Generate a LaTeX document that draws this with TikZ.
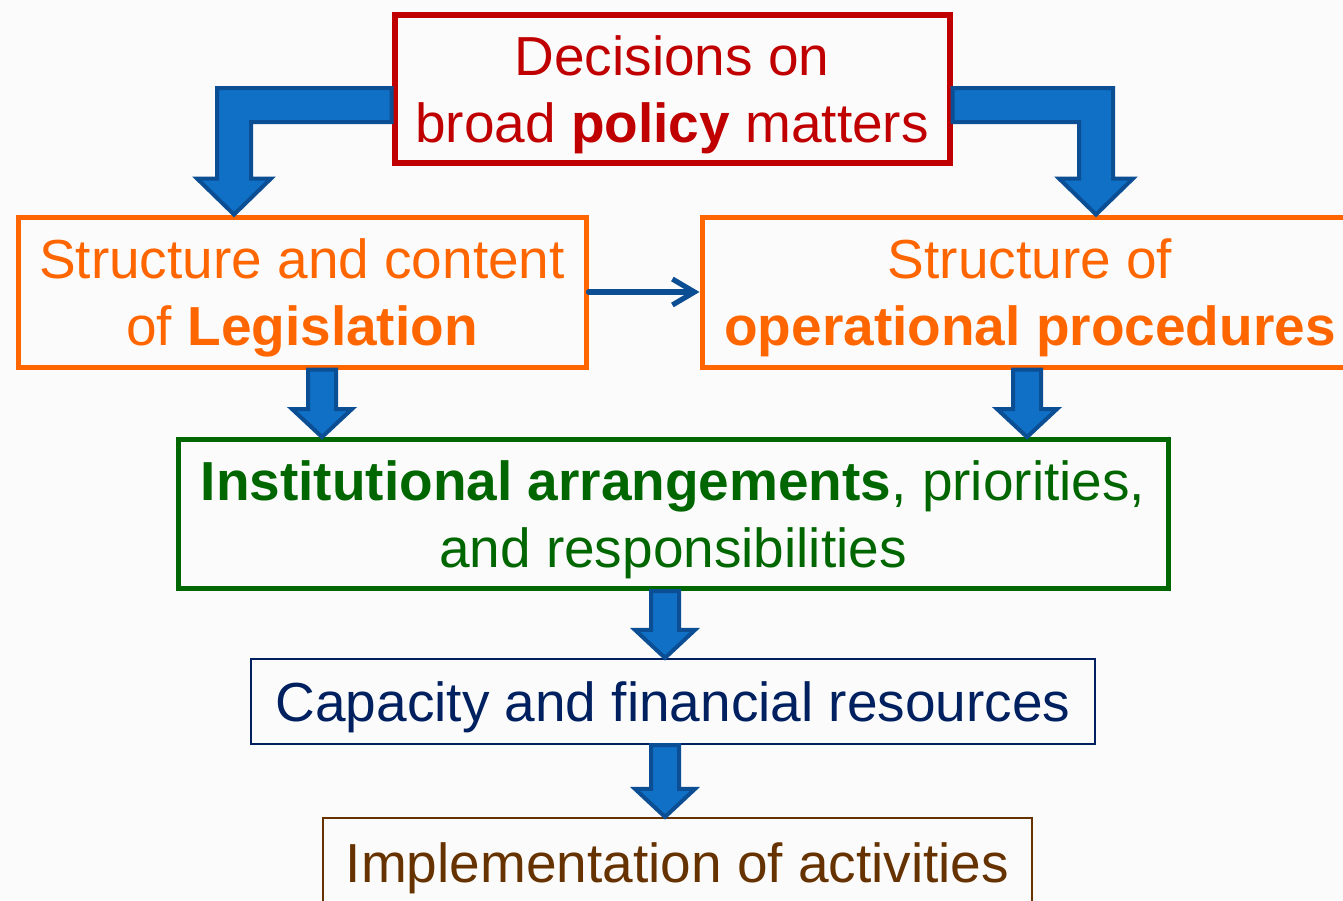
\documentclass[tikz,border=0pt]{standalone}
\usepackage{fontspec}
\setmainfont{Liberation Sans}
\usetikzlibrary{arrows.meta, calc}
\definecolor{policyred}{HTML}{C00000}
\definecolor{legorange}{HTML}{FF6600}
\definecolor{instgreen}{HTML}{006600}
\definecolor{capnavy}{HTML}{002060}
\definecolor{implbrown}{HTML}{663300}
\definecolor{flowfill}{HTML}{1070C6}
\definecolor{flowedge}{HTML}{0B4E94}
\definecolor{bgpage}{HTML}{FBFBFB}
\newcommand{\topstrut}{\rule{0pt}{26pt}}
\tikzset{
  box/.style={draw, inner sep=0pt, align=center,
              font=\fontsize{27.5pt}{33.5pt}\selectfont},
  redbox/.style={box, draw=policyred, text=policyred, line width=3pt},
  orbox/.style={box, draw=legorange, text=legorange, line width=2.5pt},
  grbox/.style={box, draw=instgreen, text=instgreen, line width=2.5pt},
  nvbox/.style={box, draw=capnavy, text=capnavy, line width=1.1pt},
  brbox/.style={box, draw=implbrown, text=implbrown, line width=1.1pt},
  fat/.style={fill=flowfill, draw=flowedge, line width=2pt, line join=miter},
  fl/.style={-{Straight Barb[length=11pt,width=13pt]}, line width=2.6pt,
             draw=flowedge, line cap=round},
}
% straight block arrow: #1 axis x, #2 upper node, #3 lower node
\newcommand{\fatdown}[3]{%
  \draw[fat] ($(#1,0 |- #2.south)+(-14,0)$) -- ($(#1,0 |- #3.north)+(-14,-28)$)
    -- ++(-16,0) -- (#1,0 |- #3.north) -- ($(#1,0 |- #3.north)+(30,-28)$)
    -- ++(-16,0) -- ($(#1,0 |- #2.south)+(14,0)$) -- cycle;}

\begin{document}
\begin{tikzpicture}[x=0.5pt, y=-0.5pt]
    \fill[bgpage] (0,0) rectangle (1343,900);
    \useasboundingbox (0,0) rectangle (1343,900);
    \clip (0,0) rectangle (1343,900);

    \node[redbox, minimum width=277.5pt, minimum height=74pt] (policy) at (672,89)
      {\topstrut Decisions on\\broad \textbf{policy} matters};
    \node[orbox, minimum width=284pt, minimum height=75pt] (leg) at (302,292)
      {\topstrut Structure and content\\of \textbf{Legislation}};
    \node[orbox, minimum width=328pt, minimum height=75pt] (ops) at (1030,292)
      {\topstrut Structure of\\\textbf{operational procedures}};
    \node[grbox, minimum width=495pt, minimum height=74.5pt] (inst) at (673,514)
      {\topstrut\textbf{Institutional arrangements}, priorities,\\and responsibilities};
    \node[nvbox, minimum width=422pt, minimum height=42.5pt] (cap) at (673,701.5)
      {\topstrut Capacity and financial resources};
    \node[brbox, minimum width=354.5pt, minimum height=44pt] (impl) at (677.5,862)
      {\topstrut Implementation of activities};

    % bent block arrows out of the policy box
    \draw[fat] (policy.west |- 0,88) -- (217,88) -- ($(217,0 |- leg.north)+(0,-36)$)
      -- ++(-20,0) -- (234,0 |- leg.north) -- ($(271,0 |- leg.north)+(0,-36)$)
      -- ++(-20,0) -- (251,122) -- (policy.west |- 0,122) -- cycle;
    \draw[fat] (policy.east |- 0,88) -- (1113,88) -- ($(1113,0 |- ops.north)+(0,-36)$)
      -- ++(20,0) -- (1096,0 |- ops.north) -- ($(1059,0 |- ops.north)+(0,-36)$)
      -- ++(20,0) -- (1079,122) -- (policy.east |- 0,122) -- cycle;

    \fatdown{322}{leg}{inst}
    \fatdown{1027}{ops}{inst}
    \fatdown{665}{inst}{cap}
    \fatdown{665}{cap}{impl}

    \draw[fl] (leg.east) -- (ops.west);
\end{tikzpicture}
\end{document}
